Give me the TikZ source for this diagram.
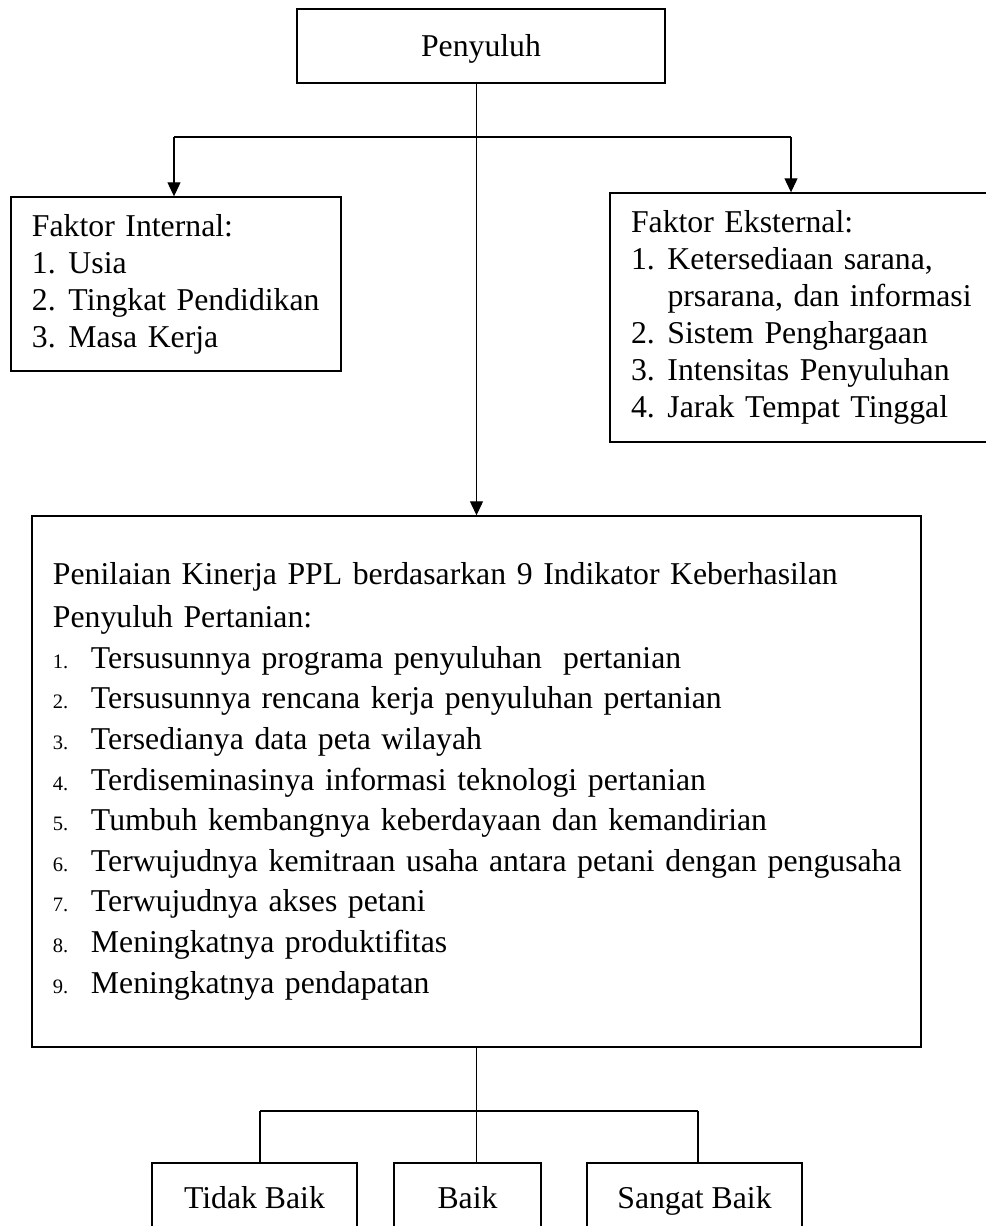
\documentclass[tikz,border=0pt]{standalone}
\usepackage{fontspec}
\setmainfont{Liberation Serif}
\usetikzlibrary{arrows.meta,positioning}

\newcommand{\nomor}[1]{\makebox[14.6pt][l]{#1}}
\newcommand{\nomorkecil}[1]{\makebox[15.2pt][l]{\fontsize{8.2}{9}\selectfont #1}}

\begin{document}
\begin{tikzpicture}[x=0.4pt,y=-0.4pt,>={Triangle[width=5.2pt,length=5.6pt]},font=\fontsize{12.7}{14.8}\selectfont]
	\tikzstyle{mybox} = [draw, rectangle, line width=0.55pt, inner sep=0pt, align=center, text height=10pt, text depth=2pt]
	\tikzstyle{listbox} = [draw, rectangle, line width=0.55pt, inner ysep=0pt, inner xsep=8.4pt, align=left]
	\tikzstyle{link} = [line width=0.45pt]

	\useasboundingbox (0,0) rectangle (986,1226);

	\node[mybox, minimum width=147.2pt, minimum height=29.6pt] (penyuluh) at (481,46) {Penyuluh};

	\node[listbox, text width=115.2pt, minimum height=69.6pt] (internal) at (176,284) {%
		Faktor Internal:\\
		\nomor{1.}Usia\\
		\nomor{2.}Tingkat Pendidikan\\
		\nomor{3.}Masa Kerja
	};

	\node[listbox, text width=139.2pt, minimum height=99.6pt] (eksternal) at (805,317.5) {%
		Faktor Eksternal:\\
		\nomor{1.}Ketersediaan sarana,\\
		\hspace*{14.6pt}prsarana, dan informasi\\
		\nomor{2.}Sistem Penghargaan\\
		\nomor{3.}Intensitas Penyuluhan\\
		\nomor{4.}Jarak Tempat Tinggal
	};

	\node[listbox, text width=338.8pt, minimum height=212.4pt, font=\fontsize{12.7}{16.25}\selectfont] (kinerja) at (476.5,781.5) {%
		\mbox{Penilaian Kinerja PPL berdasarkan 9 Indikator Keberhasilan}\\[0.8pt]
		Penyuluh Pertanian:\\
		\nomorkecil{1.}\mbox{Tersusunnya programa penyuluhan\ \ pertanian}\\
		\nomorkecil{2.}\mbox{Tersusunnya rencana kerja penyuluhan pertanian}\\
		\nomorkecil{3.}\mbox{Tersedianya data peta wilayah}\\
		\nomorkecil{4.}\mbox{Terdiseminasinya informasi teknologi pertanian}\\
		\nomorkecil{5.}\mbox{Tumbuh kembangnya keberdayaan dan kemandirian}\\
		\nomorkecil{6.}\mbox{Terwujudnya kemitraan usaha antara petani dengan pengusaha}\\
		\nomorkecil{7.}\mbox{Terwujudnya akses petani}\\
		\nomorkecil{8.}\mbox{Meningkatnya produktifitas}\\
		\nomorkecil{9.}\mbox{Meningkatnya pendapatan}
	};

	\node[mybox, minimum width=82pt, minimum height=28pt] (tidakbaik) at (254.5,1198) {Tidak Baik};
	\node[mybox, minimum width=58.8pt, minimum height=28pt] (baik) at (467.5,1198) {Baik};
	\node[mybox, minimum width=86pt, minimum height=28pt] (sangatbaik) at (694.5,1198) {Sangat Baik};

	% cabang atas
	\coordinate (branchL) at (174,137);
	\coordinate (branchR) at (791,137);
	\draw[link] (branchL) -- (branchR);
	\draw[link,->] (branchL) -- (branchL |- internal.north);
	\draw[link,->] (branchR) -- (branchR |- eksternal.north);
	\draw[link,->] (penyuluh.south -| kinerja.north) -- (kinerja.north);

	% cabang bawah
	\coordinate (joinL) at (260,1111);
	\coordinate (joinR) at (698,1111);
	\draw[link] (joinL) -- (joinR);
	\draw[link] (kinerja.south) -- (kinerja.south |- baik.north);
	\draw[link] (joinL) -- (joinL |- tidakbaik.north);
	\draw[link] (joinR) -- (joinR |- sangatbaik.north);

\end{tikzpicture}
\end{document}
